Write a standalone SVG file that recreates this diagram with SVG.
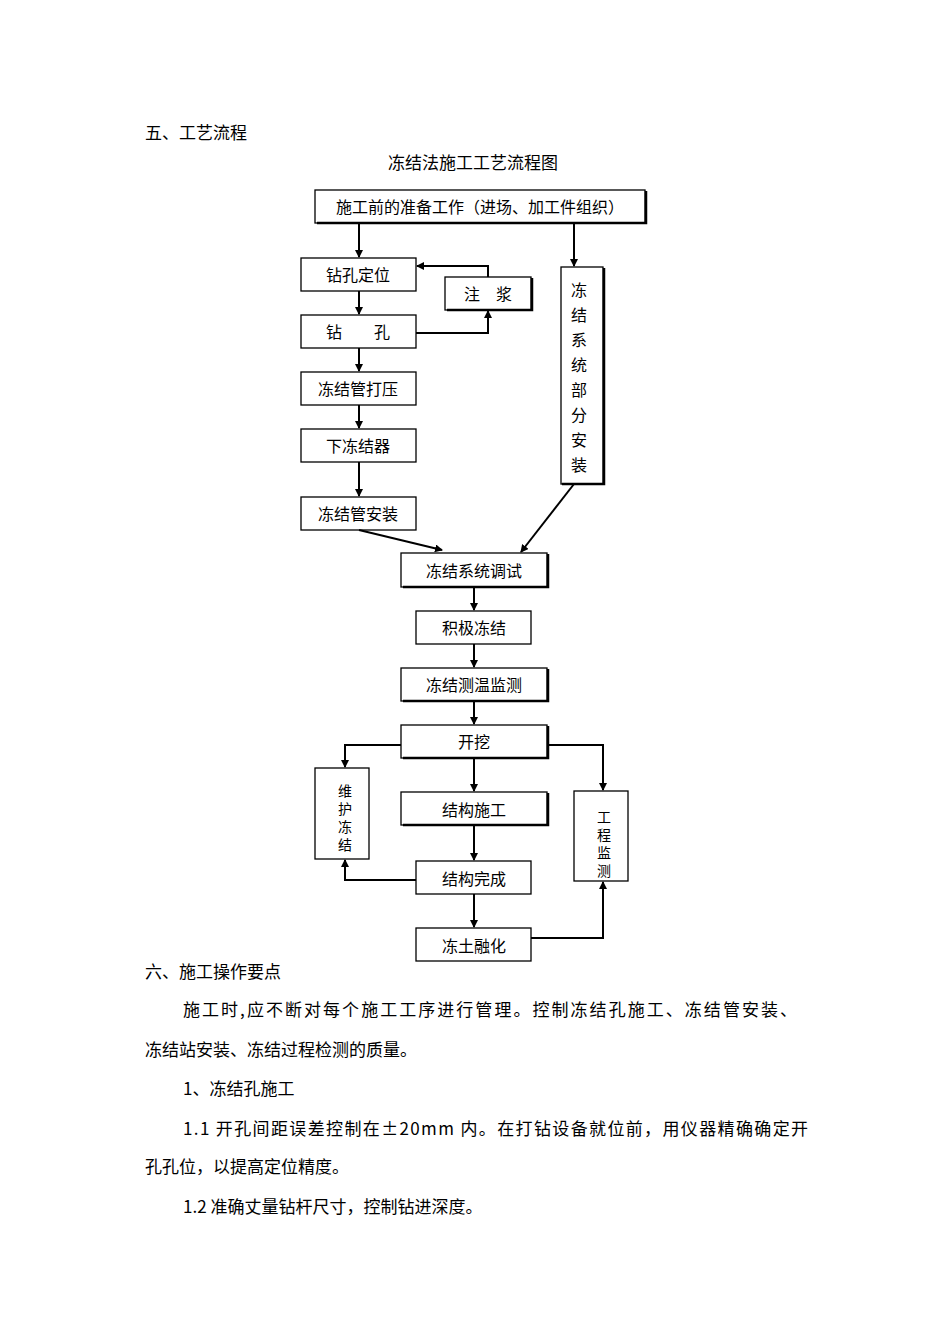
<svg xmlns="http://www.w3.org/2000/svg" width="950" height="1344" viewBox="0 0 950 1344">
<style>
text{font-family:"Noto Sans CJK SC",sans-serif;font-size:16px;fill:#000}
.c{text-anchor:middle}
.v{font-size:14px}
.b rect{fill:#fff;stroke:#000;stroke-width:1.3}
.s{stroke:#000;stroke-width:2.5;fill:none}
.l{stroke:#000;stroke-width:2;fill:none}
</style>
<defs><marker id="a" markerWidth="8" markerHeight="8" refX="7" refY="4" orient="auto" markerUnits="userSpaceOnUse"><path d="M0,0L8,4L0,8z"/></marker></defs>
<rect width="950" height="1344" fill="#fff"/>
<text x="145" y="139" style="font-size:17px">五、工艺流程</text>
<text x="473" y="169" class="c" style="font-size:17px">冻结法施工工艺流程图</text>
<g class="b">
<g id="n0"><rect x="315" y="190" width="330" height="33"/><path class="s" d="M317,223H646V191"/><text x="480" y="213" class="c">施工前的准备工作（进场、加工件组织）</text></g>
<g id="n1"><rect x="301" y="258" width="115" height="33"/><text x="358" y="281" class="c">钻孔定位</text></g>
<g id="n2"><rect x="445" y="277" width="86" height="33"/><path class="s" d="M447,310H532V278"/><text x="488" y="300" class="c">注　浆</text></g>
<g id="n3"><rect x="301" y="315" width="115" height="33"/><text x="358" y="338" class="c">钻　　孔</text></g>
<g id="n4"><rect x="301" y="372" width="115" height="33"/><text x="358" y="395" class="c">冻结管打压</text></g>
<g id="n5"><rect x="301" y="429" width="115" height="33"/><text x="358" y="452" class="c">下冻结器</text></g>
<g id="n6"><rect x="301" y="497" width="115" height="33"/><text x="358" y="520" class="c">冻结管安装</text></g>
<g id="n7"><rect x="561" y="267" width="42" height="217"/><path class="s" d="M562,484H604V268"/><text x="579" y="296" class="c">冻</text><text x="579" y="321" class="c">结</text><text x="579" y="346" class="c">系</text><text x="579" y="371" class="c">统</text><text x="579" y="396" class="c">部</text><text x="579" y="421" class="c">分</text><text x="579" y="446" class="c">安</text><text x="579" y="471" class="c">装</text></g>
<g id="n8"><rect x="401" y="553" width="146" height="34"/><path class="s" d="M403,587H548V554"/><text x="474" y="577" class="c">冻结系统调试</text></g>
<g id="n9"><rect x="416" y="611" width="115" height="33"/><text x="474" y="634" class="c">积极冻结</text></g>
<g id="n10"><rect x="401" y="668" width="146" height="33"/><path class="s" d="M403,701H548V669"/><text x="474" y="691" class="c">冻结测温监测</text></g>
<g id="n11"><rect x="401" y="725" width="146" height="33"/><path class="s" d="M403,758H548V726"/><text x="474" y="748" class="c">开挖</text></g>
<g id="n12"><rect x="315" y="768" width="54" height="91"/><text x="345" y="796" class="c v">维</text><text x="345" y="814" class="c v">护</text><text x="345" y="832" class="c v">冻</text><text x="345" y="850" class="c v">结</text></g>
<g id="n13"><rect x="401" y="792" width="146" height="33"/><path class="s" d="M403,825H548V793"/><text x="474" y="816" class="c">结构施工</text></g>
<g id="n14"><rect x="574" y="791" width="54" height="90"/><text x="604" y="822" class="c v">工</text><text x="604" y="840" class="c v">程</text><text x="604" y="858" class="c v">监</text><text x="604" y="876" class="c v">测</text></g>
<g id="n15"><rect x="416" y="861" width="115" height="33"/><text x="474" y="885" class="c">结构完成</text></g>
<g id="n16"><rect x="416" y="928" width="115" height="33"/><text x="474" y="952" class="c">冻土融化</text></g>
</g>
<g id="edges" class="l" marker-end="url(#a)">
<path d="M359,223V257"/><path d="M574,223V266"/>
<path d="M359,291V314"/><path d="M416,333H488V311"/><path d="M488,277V266H417"/>
<path d="M359,348V371"/><path d="M359,405V428"/><path d="M359,462V496"/>
<path d="M359,530L442,550"/><path d="M574,484L521,552"/>
<path d="M474,587V610"/><path d="M474,644V667"/><path d="M474,701V724"/>
<path d="M401,745H345V767"/><path d="M547,745H603V790"/>
<path d="M474,758V791"/><path d="M474,825V860"/><path d="M416,880H345V860"/>
<path d="M474,894V927"/><path d="M531,938H603V882"/>
</g>
<text x="145" y="978" style="font-size:17px">六、施工操作要点</text>
<text x="183" y="1016" style="font-size:17px" textLength="614">施工时,应不断对每个施工工序进行管理。控制冻结孔施工、冻结管安装、</text>
<text x="145" y="1056" style="font-size:17px">冻结站安装、冻结过程检测的质量。</text>
<text x="183" y="1095" style="font-size:17px">1、冻结孔施工</text>
<text x="183" y="1135" style="font-size:17px" textLength="625">1.1 开孔间距误差控制在±20mm 内。在打钻设备就位前，用仪器精确确定开</text>
<text x="145" y="1173" style="font-size:17px">孔孔位，以提高定位精度。</text>
<text x="183" y="1213" style="font-size:17px">1.2 准确丈量钻杆尺寸，控制钻进深度。</text>
</svg>
